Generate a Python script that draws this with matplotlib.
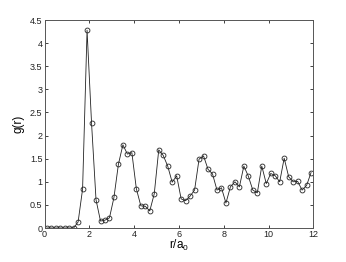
import numpy as np
import matplotlib
matplotlib.use("Agg")
import matplotlib.pyplot as plt

# radial distribution function
r = np.arange(0.1, 12.0, 0.2)
g = [0, 0, 0, 0, 0, 0, 0, 0.13, 0.84, 4.28,
     2.27, 0.61, 0.15, 0.17, 0.22, 0.66, 1.38, 1.80, 1.60, 1.63,
     0.85, 0.48, 0.47, 0.37, 0.74, 1.69, 1.57, 1.34, 0.99, 1.13,
     0.63, 0.59, 0.69, 0.82, 1.49, 1.56, 1.27, 1.17, 0.82, 0.87,
     0.54, 0.89, 1.00, 0.89, 1.34, 1.12, 0.82, 0.76, 1.34, 0.96,
     1.18, 1.13, 1.00, 1.51, 1.11, 1.00, 1.01, 0.82, 0.92, 1.20]

xticks = [0, 2, 4, 6, 8, 10, 12]
yticks = [0, 0.5, 1, 1.5, 2, 2.5, 3, 3.5, 4, 4.5]

plt.rcParams['font.family'] = ['Liberation Sans', 'DejaVu Sans']
plt.rcParams['mathtext.fontset'] = 'custom'
plt.rcParams['mathtext.rm'] = 'Liberation Sans'
plt.rcParams['mathtext.it'] = 'Liberation Sans'

fig = plt.figure(figsize=(3.46, 2.62), dpi=100)
ax = fig.add_axes([44.5/346, (262-228)/262, (313.3-44.5)/346, (228-20)/262])

ax.plot(r, g, '-o', color='#222222', lw=0.6, ms=3.5, mfc='none', mec='#222222', mew=0.6)

ax.set_xlim(0, 12)
ax.set_ylim(0, 4.5)
ax.set_xticks(xticks)
ax.set_yticks(yticks)
ax.set_yticklabels(['0', '0.5', '1', '1.5', '2', '2.5', '3', '3.5', '4', '4.5'])
ax.tick_params(direction='in', top=True, right=True, length=2.5, width=0.6,
               labelsize=6.5, pad=1.5, colors='#222222')
for s in ax.spines.values():
    s.set_linewidth(0.7)
    s.set_color('#555555')

ax.set_xlabel(r'r/a$_\mathrm{0}$', fontsize=8.5, labelpad=-1)
ax.set_ylabel('g(r)', fontsize=8.5, labelpad=4)

fig.savefig('out.png', dpi=100)
